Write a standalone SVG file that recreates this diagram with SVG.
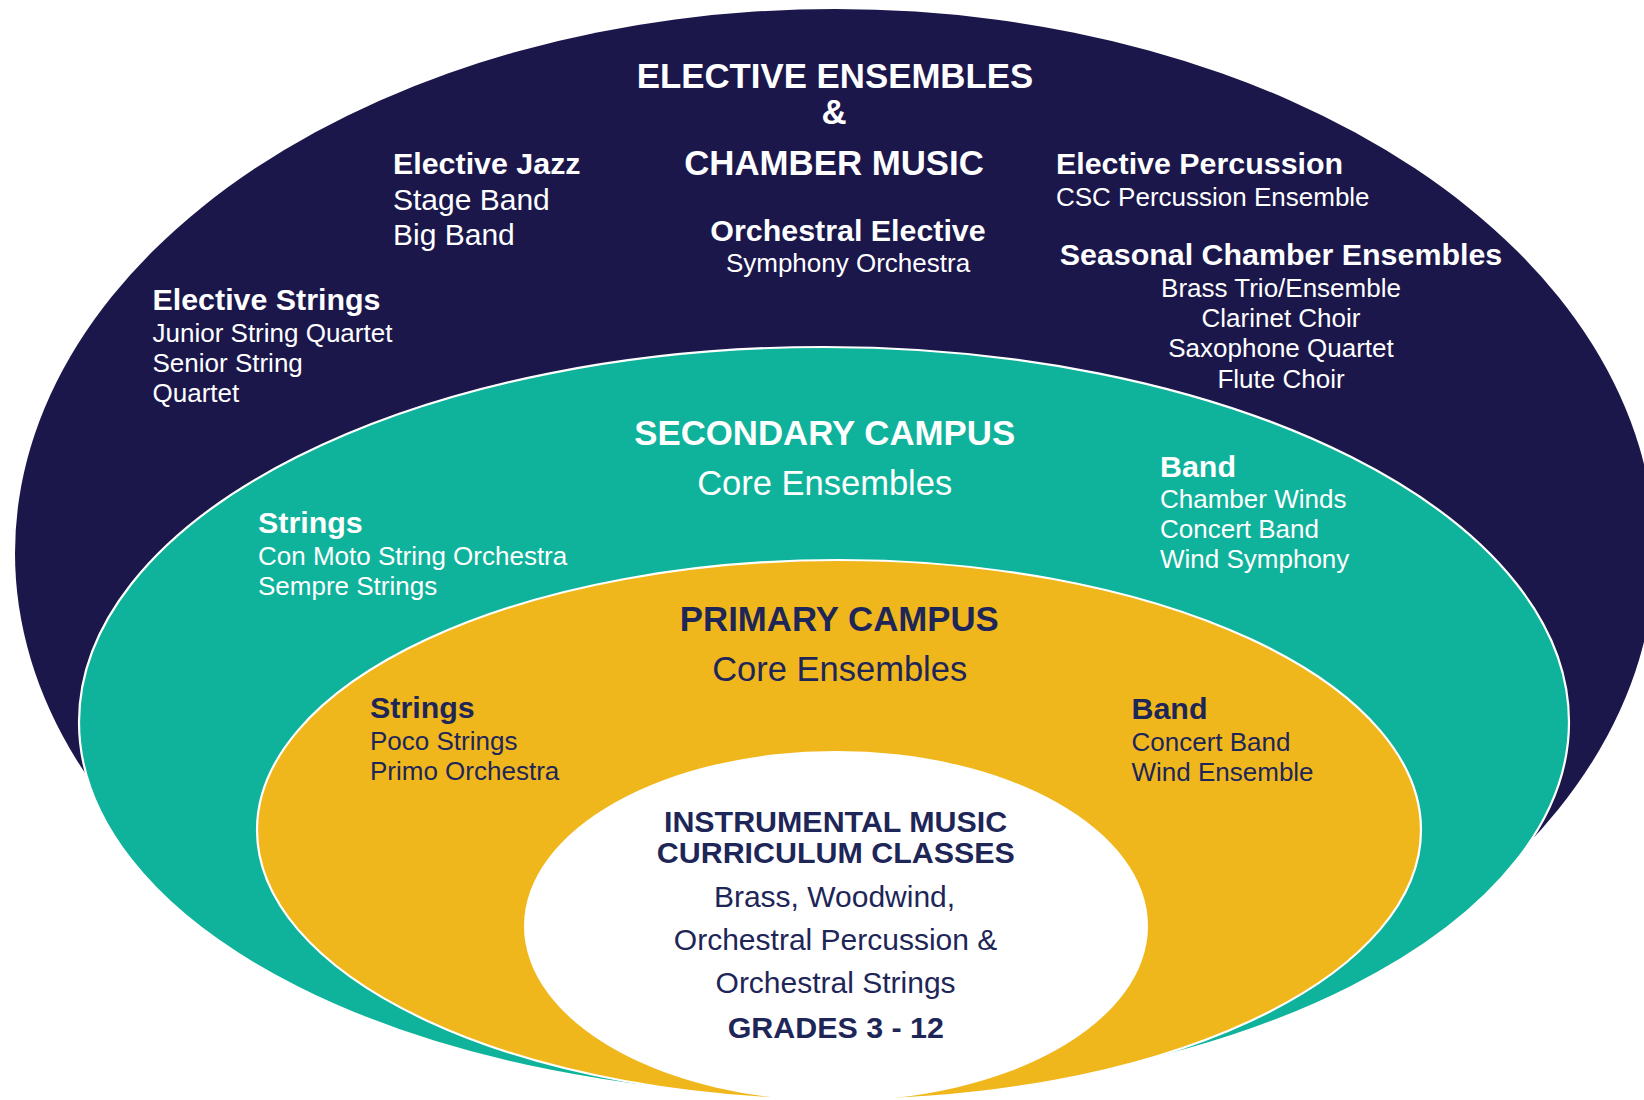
<svg xmlns="http://www.w3.org/2000/svg" width="1644" height="1100" viewBox="0 0 1644 1100">
<style>
text { font-family: "Liberation Sans", Arial, Helvetica, sans-serif; }
.w { fill: #ffffff; }
.d { fill: #1e2658; }
.h { font-size: 34.8px; font-weight: bold; }
.core { font-size: 34.5px; }
.sh { font-size: 30.4px; font-weight: bold; }
.it { font-size: 26px; }
.it30 { font-size: 30px; }
.c { text-anchor: middle; }
.ring { stroke: #ffffff; stroke-width: 2.2; }
</style>
<rect width="1644" height="1100" fill="#ffffff"/>

<g id="elective-ensembles">
  <ellipse cx="835" cy="553" rx="820" ry="544" fill="#1b174b"/>
  <text class="w h c" x="835" y="88">ELECTIVE ENSEMBLES</text>
  <text class="w h c" x="834" y="124">&amp;</text>
  <text class="w h c" x="834" y="175">CHAMBER MUSIC</text>
  <text class="w sh c" x="848" y="241">Orchestral Elective</text>
  <text class="w it c" x="848" y="271.7">Symphony Orchestra</text>
  <text class="w sh" x="393" y="174.3">Elective Jazz</text>
  <text class="w it30" x="393" y="210">Stage Band</text>
  <text class="w it30" x="393" y="245">Big Band</text>
  <text class="w sh" x="152.5" y="310">Elective Strings</text>
  <text class="w it" x="152.5" y="341.7">Junior String Quartet</text>
  <text class="w it" x="152.5" y="372.3">Senior String</text>
  <text class="w it" x="152.5" y="402.3">Quartet</text>
  <text class="w sh" x="1056" y="174.3">Elective Percussion</text>
  <text class="w it" x="1056" y="205.7">CSC Percussion Ensemble</text>
  <text class="w sh c" x="1281" y="265">Seasonal Chamber Ensembles</text>
  <text class="w it c" x="1281" y="296.7">Brass Trio/Ensemble</text>
  <text class="w it c" x="1281" y="327.3">Clarinet Choir</text>
  <text class="w it c" x="1281" y="357.3">Saxophone Quartet</text>
  <text class="w it c" x="1281" y="387.7">Flute Choir</text>
</g>

<g id="secondary-campus">
  <ellipse class="ring" cx="824" cy="722" rx="745" ry="375" fill="#0fb39b"/>
  <text class="w h c" x="824.7" y="445">SECONDARY CAMPUS</text>
  <text class="w core c" x="824.7" y="495">Core Ensembles</text>
  <text class="w sh" x="258" y="533.3">Strings</text>
  <text class="w it" x="258" y="565">Con Moto String Orchestra</text>
  <text class="w it" x="258" y="595">Sempre Strings</text>
  <text class="w sh" x="1160" y="476.7">Band</text>
  <text class="w it" x="1160" y="507.7">Chamber Winds</text>
  <text class="w it" x="1160" y="538.3">Concert Band</text>
  <text class="w it" x="1160" y="568.3">Wind Symphony</text>
</g>

<g id="primary-campus">
  <ellipse class="ring" cx="839" cy="830" rx="582" ry="270" fill="#f0b71d"/>
  <text class="d h c" x="839.3" y="630.7">PRIMARY CAMPUS</text>
  <text class="d core c" x="839.7" y="681">Core Ensembles</text>
  <text class="d sh" x="370" y="718.3">Strings</text>
  <text class="d it" x="370" y="750">Poco Strings</text>
  <text class="d it" x="370" y="780">Primo Orchestra</text>
  <text class="d sh" x="1131.5" y="719">Band</text>
  <text class="d it" x="1131.5" y="751">Concert Band</text>
  <text class="d it" x="1131.5" y="781">Wind Ensemble</text>
</g>

<g id="curriculum-classes">
  <ellipse cx="836" cy="926" rx="312" ry="175" fill="#ffffff"/>
  <text class="d sh c" x="835.6" y="831.7">INSTRUMENTAL MUSIC</text>
  <text class="d sh c" x="835.8" y="863.3">CURRICULUM CLASSES</text>
  <text class="d it30 c" x="834.5" y="906.7">Brass, Woodwind,</text>
  <text class="d it30 c" x="835.6" y="950">Orchestral Percussion &amp;</text>
  <text class="d it30 c" x="835.6" y="993.3">Orchestral Strings</text>
  <text class="d sh c" x="835.8" y="1038.3">GRADES 3 - 12</text>
</g>

<g id="connectors"></g>
</svg>
